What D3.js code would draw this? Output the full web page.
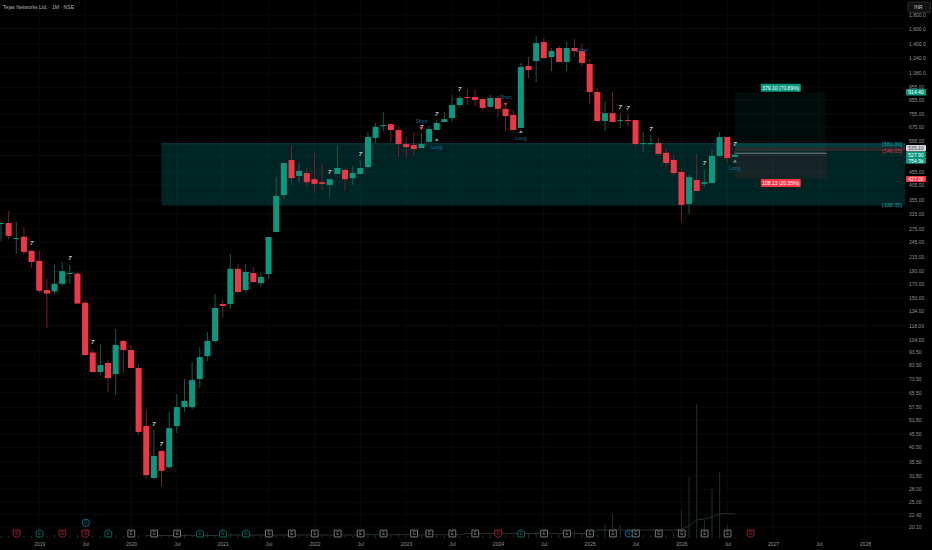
<!DOCTYPE html>
<html>
<head>
<meta charset="utf-8">
<title>Tejas Networks Ltd.</title>
<script src="https://cdn.jsdelivr.net/npm/d3@7"></script>
<style>
    html, body { margin: 0; padding: 0; background: #000; overflow: hidden; }
    text { font-family: "Liberation Sans", sans-serif; }
</style>
</head>
<body>
<div id="chart"></div>
<script>
// Monthly candles, first bar is Aug 2018.
const opens = [
    288, 290, 253, 257, 227, 208, 161, 159, 170, 186,
    186, 144, 93, 78.4, 84.9, 77, 102.9, 95.1, 81.2, 48.8,
    30.9, 39.2, 34, 48.8, 57.6, 57.6, 73.7, 90.2, 102.9, 142.4,
    142.4, 193.9, 161, 187, 171.2, 185.3, 267.9, 370.8, 504, 438,
    450, 426, 415, 405, 446, 462, 430, 446, 474, 612,
    679, 691, 656, 580, 575, 560, 591, 656, 704, 729,
    817, 877, 877, 861, 804, 869, 790, 749, 668, 1151,
    1202, 1420, 1245, 1348, 1192, 1348, 1313, 1172, 916, 710,
    761, 710, 716, 716, 582, 582, 585, 537, 504, 454,
    343, 423, 409, 412, 523, 617, 518
];
const highs = [
    292, 322, 293, 280, 229, 227, 178, 201, 206, 201,
    189, 147, 96, 100, 87, 114.3, 103.8, 99.4, 84.1, 56.2,
    47.1, 39.5, 55.2, 64.6, 73.7, 85.6, 97.6, 111.4, 155.4, 147.5,
    220.9, 202.3, 202.3, 197, 187, 257, 434, 493, 570, 491,
    474, 541, 491, 428, 570, 474, 478, 504, 645, 698,
    768, 698, 674, 617, 645, 639, 679, 716, 768, 892,
    885, 941, 941, 869, 892, 885, 825, 783, 1182, 1245,
    1498, 1472, 1348, 1372, 1420, 1459, 1396, 1224, 950, 846,
    916, 761, 754, 716, 645, 628, 612, 560, 527, 466,
    442, 532, 462, 555, 645, 617, 546
];
const lows = [
    248, 252, 221, 219, 196, 157, 115, 155, 166, 170,
    142, 90.5, 78, 76.3, 65.8, 64, 77.7, 81.2, 45.1, 30.6,
    30.6, 28.8, 33.4, 45.9, 55.2, 56.6, 68.1, 86.3, 101.1, 127,
    136.3, 156.8, 156.8, 171.2, 166.8, 177.3, 267, 358, 405, 412,
    398, 377, 387, 361, 446, 384, 405, 446, 466, 586,
    650, 591, 518, 513, 527, 560, 591, 656, 704, 704,
    797, 817, 810, 783, 804, 736, 650, 656, 668, 1036,
    1000, 1224, 1101, 1192, 1101, 1245, 1151, 825, 710, 650,
    704, 668, 679, 565, 541, 575, 532, 474, 442, 295,
    314, 384, 398, 412, 518, 491, 518
];
const closes = [
    290, 259, 254, 225, 206, 160, 156, 170, 190, 187,
    143, 91, 78.4, 83.3, 74.3, 99.4, 95.1, 81.2, 46.3, 31.7,
    37.5, 32.9, 47.9, 57.6, 60.8, 73, 89.4, 102.9, 137.5, 140,
    193.9, 158.2, 188.6, 172.7, 180.5, 256.4, 367.5, 491, 430, 458,
    415, 409, 409, 426, 470, 426, 450, 470, 617, 674,
    685, 656, 580, 565, 555, 580, 662, 698, 722, 817,
    869, 870, 854, 797, 869, 790, 742, 656, 1141, 1112,
    1408, 1234, 1313, 1192, 1348, 1313, 1182, 916, 710, 761,
    704, 716, 713, 580, 585, 585, 532, 491, 450, 340,
    434, 384, 415, 523, 617, 513, 527.9
];
const volumes = [
    2, 2, 3, 2, 2, 3, 2, 3, 2, 2,
    3, 3, 2, 2, 2, 3, 2, 3, 3, 3,
    3, 2, 3, 4, 4, 3, 3, 5, 3, 3,
    5, 4, 3, 3, 3, 5, 3, 3, 3, 3,
    3, 3, 3, 2, 3, 3, 2, 3, 5, 3,
    3, 3, 5, 2, 3, 3, 2, 3, 3, 3,
    2, 2, 3, 3, 3, 5, 3, 3, 7, 4,
    6, 3, 3, 3, 4, 8, 5, 3, 3, 14,
    24, 13, 3, 5, 3, 3, 4, 3, 5, 28,
    61, 134, 18, 49, 66, 13, 1
];
const volumeAverage = [
    null, null, null, null, null, null, null, null, null, null,
    null, null, null, null, null, null, null, null, null, 2.5,
    2.5, 2.5, 2.5, 2.5, 2.5, 2.5, 2.5, 2.5, 2.5, 2.5,
    3, 3, 3, 3, 3, 3, 3, 3, 3, 3,
    3, 3, 3, 3, 3, 3, 3, 3, 3.3, 3.3,
    3.3, 3.3, 3.3, 3.3, 3.3, 3.3, 3.3, 3.3, 3.3, 3.3,
    3.3, 4.5, 4.5, 4.5, 4.5, 4.5, 4.5, 4.5, 4.5, 4.5,
    4.5, 4.5, 4.5, 4.5, 4.5, 4.5, 4.5, 4.5, 8, 8,
    8, 8, 8, 8, 8, 8, 8, 8, 8, 9,
    12, 18, 19, 21, 24, 24.5, 24
];

const priceTicks = [
    1800, 1600, 1400, 1240, 1080, 955, 855, 755, 675, 595, 525, 455, 405, 355, 315, 275, 245, 215, 190, 170,
    150, 134, 118, 104, 93.5, 83.5, 73.5, 65.5, 57.5, 51.5, 45.5, 40.5, 35.5, 31.5, 28, 25, 22.4, 20.1
];
const timeTickBars = [5, 11, 17, 23, 29, 35, 41, 47, 53, 59, 65, 71, 77, 83, 89, 95, 101, 107, 113];
const timeTickLabels = ['2019', 'Jul', '2020', 'Jul', '2021', 'Jul', '2022', 'Jul', '2023', 'Jul', '2024', 'Jul', '2025', 'Jul', '2026', 'Jul', '2027', 'Jul', '2028'];

// Signals and events.
const sevenBars = [4, 9, 12, 20, 21, 43, 47, 55, 57, 60, 81, 82, 85, 92, 96];
const longBars = [57, 68, 96];
const longPrices = [601, 645, 498];
const shortBars = [55, 66, 76];
const shortPrices = [668, 826, 1253];
const earningsGrey = [17, 20, 23, 35, 38, 41, 44, 47, 50, 54, 56, 59, 62, 71, 74, 77, 80, 83, 86, 89, 92, 95];
const earningsRed = [2, 8, 11, 65, 98];
const earningsGreen = [5, 14, 26, 29, 32, 68];
const dividendBars = [11, 82];

// Support zone and long position.
const zoneTop = 581.3;
const zoneBottom = 338.35;
const zoneStartBar = 21;
const bandMid = 562;
const bandLow = 546.05;
const entryPrice = 535.1;
const targetPrice = 914.4;
const stopPrice = 427;
const positionStartBar = 96;
const positionEndBar = 108;

const width = 932,
    height = 550,
    axisX = 905,
    upColor = '#089981',
    downColor = '#f23645',
    upWick = '#0b5f50',
    downWick = '#74202b',
    tickColor = '#959595',
    gridColor = '#0b0b0b',
    signalColor = '#1a7096',
    fontSize = 5;

const x = d3.scaleLinear().domain( [0, 1] ).range( [1, 8.645] );
const y = d3.scaleLog().domain( [20.1, 1600] ).range( [527, 28.5] );
const yVolume = d3.scaleLinear().domain( [0, 134] ).range( [538, 404] );

const svg = d3.select( '#chart' )
    .append( 'svg' )
    .attr( 'width', width )
    .attr( 'height', height )
    .style( 'display', 'block' )
    .style( 'background', '#000' );

// Grid.
const grid = svg.append( 'g' ).attr( 'stroke', gridColor ).attr( 'stroke-width', 1 );
grid.selectAll( 'line.h' )
    .data( priceTicks )
    .join( 'line' )
    .attr( 'class', 'h' )
    .attr( 'x1', 0 )
    .attr( 'x2', axisX )
    .attr( 'y1', d => y( d ) )
    .attr( 'y2', d => y( d ) );
grid.selectAll( 'line.v' )
    .data( timeTickBars )
    .join( 'line' )
    .attr( 'class', 'v' )
    .attr( 'x1', d => x( d ) )
    .attr( 'x2', d => x( d ) )
    .attr( 'y1', 0 )
    .attr( 'y2', 539 );

// Zone.
svg.append( 'rect' )
    .attr( 'x', x( zoneStartBar ) )
    .attr( 'y', y( zoneTop ) )
    .attr( 'width', axisX - x( zoneStartBar ) )
    .attr( 'height', y( zoneBottom ) - y( zoneTop ) )
    .attr( 'fill', '#008c91' )
    .attr( 'fill-opacity', 0.25 );
svg.append( 'line' )
    .attr( 'x1', x( zoneStartBar ) )
    .attr( 'x2', axisX )
    .attr( 'y1', y( zoneTop ) )
    .attr( 'y2', y( zoneTop ) )
    .attr( 'stroke', '#06474a' );

// Position tool.
const posX = x( positionStartBar ),
    posWidth = x( positionEndBar ) - posX;
svg.append( 'rect' )
    .attr( 'x', posX )
    .attr( 'y', y( targetPrice ) )
    .attr( 'width', posWidth )
    .attr( 'height', y( entryPrice ) - y( targetPrice ) )
    .attr( 'fill', '#089981' )
    .attr( 'fill-opacity', 0.08 );
svg.append( 'rect' )
    .attr( 'x', posX )
    .attr( 'y', y( entryPrice ) )
    .attr( 'width', posWidth )
    .attr( 'height', y( stopPrice ) - y( entryPrice ) )
    .attr( 'fill', '#f23645' )
    .attr( 'fill-opacity', 0.09 );
svg.append( 'rect' )
    .attr( 'x', posX )
    .attr( 'y', y( zoneTop ) )
    .attr( 'width', axisX - posX )
    .attr( 'height', y( bandMid ) - y( zoneTop ) )
    .attr( 'fill', '#0fa3a3' )
    .attr( 'fill-opacity', 0.18 );
svg.append( 'rect' )
    .attr( 'x', posX )
    .attr( 'y', y( bandMid ) )
    .attr( 'width', axisX - posX )
    .attr( 'height', y( bandLow ) - y( bandMid ) )
    .attr( 'fill', '#f23645' )
    .attr( 'fill-opacity', 0.2 );
svg.append( 'line' )
    .attr( 'x1', posX )
    .attr( 'x2', posX + posWidth )
    .attr( 'y1', y( entryPrice ) )
    .attr( 'y2', y( entryPrice ) )
    .attr( 'stroke', '#7d8286' );

// Volume.
svg.append( 'g' )
    .selectAll( 'line' )
    .data( volumes )
    .join( 'line' )
    .attr( 'x1', ( d, i ) => x( i ) )
    .attr( 'x2', ( d, i ) => x( i ) )
    .attr( 'y1', yVolume( 0 ) )
    .attr( 'y2', d => yVolume( d ) )
    .attr( 'stroke', '#222e2e' );

svg.append( 'path' )
    .attr( 'd', d3.line()
        .defined( d => d !== null )
        .x( ( d, i ) => x( i ) )
        .y( d => yVolume( d ) )( volumeAverage ) )
    .attr( 'fill', 'none' )
    .attr( 'stroke', '#263030' );

// Candles.
const candles = svg.append( 'g' )
    .selectAll( 'g' )
    .data( d3.range( opens.length ) )
    .join( 'g' );
candles.append( 'line' )
    .attr( 'x1', i => x( i ) )
    .attr( 'x2', i => x( i ) )
    .attr( 'y1', i => y( highs[i] ) )
    .attr( 'y2', i => y( lows[i] ) )
    .attr( 'stroke', i => closes[i] >= opens[i] ? upWick : downWick );
candles.append( 'rect' )
    .attr( 'x', i => x( i ) - 3 )
    .attr( 'width', 6 )
    .attr( 'y', i => y( Math.max( opens[i], closes[i] ) ) )
    .attr( 'height', i => Math.max( 1, Math.abs( y( opens[i] ) - y( closes[i] ) ) ) )
    .attr( 'fill', i => closes[i] >= opens[i] ? upColor : downColor );

// "7" markers.
svg.append( 'g' )
    .selectAll( 'text' )
    .data( sevenBars )
    .join( 'text' )
    .attr( 'x', i => x( i ) )
    .attr( 'y', i => y( highs[i] ) - 4.5 )
    .attr( 'text-anchor', 'middle' )
    .attr( 'font-size', 6 )
    .attr( 'font-weight', 'bold' )
    .attr( 'font-style', 'italic' )
    .attr( 'fill', '#c9c9c9' )
    .text( '7' );

// Long / Short signals.
longBars.forEach( function ( bar, n ) {
    const px = x( bar ),
        py = y( longPrices[n] );
    svg.append( 'path' )
        .attr( 'd', `M${px},${py - 2}L${px + 2},${py + 1}L${px - 2},${py + 1}Z` )
        .attr( 'fill', '#6f978e' );
    svg.append( 'text' )
        .attr( 'x', px )
        .attr( 'y', py + 8.5 )
        .attr( 'text-anchor', 'middle' )
        .attr( 'font-size', fontSize )
        .attr( 'fill', signalColor )
        .text( 'Long' );
} );
shortBars.forEach( function ( bar, n ) {
    const px = x( bar ),
        py = y( shortPrices[n] );
    svg.append( 'path' )
        .attr( 'd', `M${px - 2},${py - 1}L${px + 2},${py - 1}L${px},${py + 2}Z` )
        .attr( 'fill', downColor );
    svg.append( 'text' )
        .attr( 'x', px )
        .attr( 'y', py - 4.5 )
        .attr( 'text-anchor', 'middle' )
        .attr( 'font-size', fontSize )
        .attr( 'fill', signalColor )
        .text( 'Short' );
} );

// Earnings flags.
function drawEarnings( bars, color, shape ) {
    const g = svg.append( 'g' )
        .selectAll( 'g' )
        .data( bars )
        .join( 'g' )
        .attr( 'transform', d => `translate(${x( d ) + 0.3},533.5)` );
    g.append( 'path' )
        .attr( 'd', shape )
        .attr( 'fill', '#000' )
        .attr( 'stroke', color )
        .attr( 'stroke-width', 0.9 );
    g.append( 'text' )
        .attr( 'y', 1.7 )
        .attr( 'text-anchor', 'middle' )
        .attr( 'font-size', 4.5 )
        .attr( 'fill', color )
        .text( 'E' );
}
drawEarnings( earningsGrey, '#808080', 'M-3.4,-3.4H3.4V3.4H-3.4Z' );
drawEarnings( earningsRed, '#a8213a', 'M-3.4,-3.4H3.4V2L0,4L-3.4,2Z' );
drawEarnings( earningsGreen, '#0b6e60', 'M0,-4L3.4,-2V3.4H-3.4V-2Z' );

const dividends = svg.append( 'g' )
    .selectAll( 'g' )
    .data( dividendBars )
    .join( 'g' )
    .attr( 'transform', ( d, i ) => `translate(${x( d ) + ( i ? 1 : 0.8 )},${i ? 533.5 : 522.7})` );
dividends.append( 'circle' )
    .attr( 'r', 3.6 )
    .attr( 'fill', '#000' )
    .attr( 'stroke', '#156a8e' );
dividends.append( 'text' )
    .attr( 'y', 1.7 )
    .attr( 'text-anchor', 'middle' )
    .attr( 'font-size', 4.5 )
    .attr( 'fill', '#156a8e' )
    .text( 'D' );

// Axes.
const yAxis = svg.append( 'g' )
    .attr( 'transform', `translate(${axisX},0)` )
    .call( d3.axisRight( y )
        .tickValues( priceTicks )
        .tickSize( 0 )
        .tickPadding( 4 )
        .tickFormat( d => d >= 1000 ? d3.format( ',.1f' )( d ) : d3.format( '.2f' )( d ) ) );
const xAxis = svg.append( 'g' )
    .attr( 'transform', 'translate(0,538)' )
    .call( d3.axisBottom( x )
        .tickValues( timeTickBars )
        .tickSize( 0 )
        .tickPadding( 4 )
        .tickFormat( ( d, i ) => timeTickLabels[i] ) );
[yAxis, xAxis].forEach( function ( axis ) {
    axis.select( '.domain' ).remove();
    axis.selectAll( 'text' )
        .attr( 'font-size', fontSize )
        .attr( 'font-family', '"Liberation Sans", sans-serif' )
        .attr( 'fill', tickColor );
} );

// Zone labels.
function zoneLabel( price, text, color ) {
    svg.append( 'text' )
        .attr( 'x', 902 )
        .attr( 'y', y( price ) + 1.8 )
        .attr( 'text-anchor', 'end' )
        .attr( 'font-size', 5.5 )
        .attr( 'fill', color )
        .text( text );
}
zoneLabel( zoneTop, '[581.30]', '#12a5a0' );
zoneLabel( bandLow, '[546.05]', '#d83a4e' );
zoneLabel( zoneBottom, '[338.35]', '#12a5a0' );

// Pills.
function pill( cx, cy, w, h, fill, textColor, label ) {
    svg.append( 'rect' )
        .attr( 'x', cx - w / 2 )
        .attr( 'y', cy - h / 2 )
        .attr( 'width', w )
        .attr( 'height', h )
        .attr( 'rx', 1 )
        .attr( 'fill', fill );
    svg.append( 'text' )
        .attr( 'x', cx )
        .attr( 'y', cy + 1.8 )
        .attr( 'text-anchor', 'middle' )
        .attr( 'font-size', fontSize )
        .attr( 'fill', textColor )
        .text( label );
}
const pillX = 916;
pill( pillX, y( targetPrice ), 20, 6.6, upColor, '#fff', '914.40' );
pill( pillX, y( entryPrice ) - 5, 20, 6.4, '#d1d4dc', '#444', '535.10' );
pill( pillX, y( closes[96] ), 20, 6, upColor, '#fff', '527.90' );
pill( pillX, y( closes[96] ) + 6, 20, 6, upColor, '#fff', '754.9k' );
pill( pillX, y( stopPrice ), 20, 6, downColor, '#fff', '427.00' );

const posCenter = posX + posWidth / 2;
pill( posCenter, y( targetPrice ) - 4.5, 40, 8, upColor, '#fff', '379.10 (70.89%)' );
pill( posCenter, y( stopPrice ) + 4, 40, 8, downColor, '#fff', '108.13 (20.35%)' );

// Title and currency box.
svg.append( 'text' )
    .attr( 'x', 3 )
    .attr( 'y', 9 )
    .attr( 'font-size', 5.1 )
    .attr( 'fill', '#b5b5b5' )
    .text( 'Tejas Networks Ltd. · 1M · NSE' );
svg.append( 'rect' )
    .attr( 'x', 908 )
    .attr( 'y', 2 )
    .attr( 'width', 22.5 )
    .attr( 'height', 10.5 )
    .attr( 'rx', 1.5 )
    .attr( 'fill', '#121212' )
    .attr( 'stroke', '#2a2a2a' );
svg.append( 'text' )
    .attr( 'x', 914 )
    .attr( 'y', 9 )
    .attr( 'font-size', fontSize )
    .attr( 'fill', '#c4c4c4' )
    .text( 'INR' );
</script>
</body>
</html>
